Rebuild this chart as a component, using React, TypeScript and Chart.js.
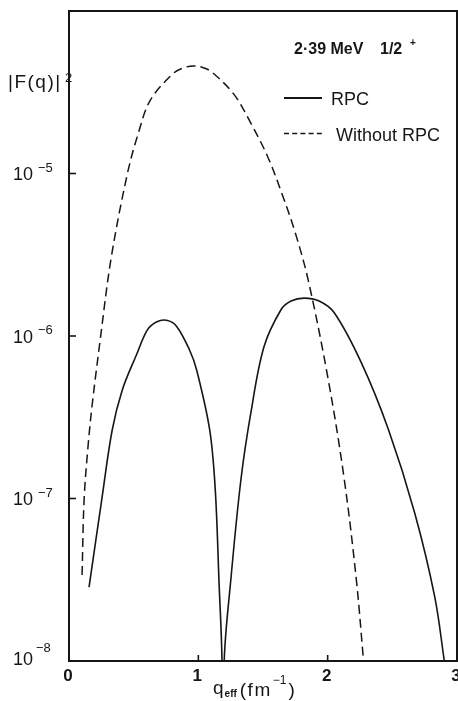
import { useEffect, useRef } from "react";
import { Chart, registerables } from "chart.js";

Chart.register(...registerables);

// ---- data ----
const rpcQ = [0.155, 0.256, 0.334, 0.412, 0.521, 0.606, 0.676, 0.754, 0.831, 0.932, 0.987, 1.088, 1.131, 1.16, 1.183, 1.19, 1.2, 1.251, 1.329, 1.406, 1.507, 1.639, 1.717, 1.818, 1.934, 2.051, 2.261, 2.471, 2.673, 2.828, 2.902];
const rpcF = [2.85e-8, 1.02e-7, 2.64e-7, 4.66e-7, 7.64e-7, 1.09e-6, 1.22e-6, 1.25e-6, 1.15e-6, 8.2e-7, 6.18e-7, 2.64e-7, 1.13e-7, 3.06e-8, 1.0e-8, 1.0e-9, 1.0e-8, 3.15e-8, 1.3e-7, 3.36e-7, 8.55e-7, 1.45e-6, 1.64e-6, 1.71e-6, 1.64e-6, 1.39e-6, 6.83e-7, 2.64e-7, 8.15e-8, 2.48e-8, 1.0e-8];

const noRpcQ = [0.101, 0.117, 0.148, 0.179, 0.241, 0.326, 0.451, 0.536, 0.629, 0.8, 0.878, 0.963, 1.033, 1.103, 1.274, 1.399, 1.538, 1.65, 1.75, 1.85, 2.005, 2.129, 2.222, 2.277];
const noRpcF = [3.38e-8, 9.93e-8, 2.13e-7, 3.76e-7, 9.44e-7, 3.02e-6, 9.93e-6, 1.77e-5, 2.83e-5, 4.09e-5, 4.45e-5, 4.59e-5, 4.49e-5, 4.22e-5, 3.08e-5, 2.09e-5, 1.26e-5, 7.38e-6, 4.3e-6, 2.2e-6, 5.36e-7, 1.3e-7, 3.15e-8, 1.01e-8];

const seriesLabels = ["RPC", "Without RPC"];
const xTicks = [0, 1, 2, 3];
const xTickLabels = ["0", "1", "2", "3"];
const yTicks = [1e-8, 1e-7, 1e-6, 1e-5];
const yTickBase = "10";
const yTickExponents = ["\u22128", "\u22127", "\u22126", "\u22125"];
const titleEnergy = "2\u00b739 MeV";
const titleSpin = "1/2";
const titleParity = "+";
const yTitle = "|F(q)|";
const yTitleSup = "2";
const xTitleMain = "q";
const xTitleSub = "eff";
const xTitleUnit = "(fm";
const xTitleUnitSup = "\u22121";
const xTitleClose = ")";

const INK = "#161616";
const FONT = '"Liberation Sans", Arial, sans-serif';

const paperPlugin = {
  id: "paper",
  beforeDraw(chart: any) {
    const { ctx, width, height } = chart;
    ctx.save();
    ctx.fillStyle = "#ffffff";
    ctx.fillRect(0, 0, width, height);
    ctx.restore();
  },
  afterDraw(chart: any) {
    const { ctx, chartArea, scales } = chart;
    const { left, right, top, bottom } = chartArea;
    const xs = scales.x;
    const ys = scales.y;
    ctx.save();
    ctx.strokeStyle = INK;
    ctx.fillStyle = INK;

    // frame
    ctx.lineWidth = 2;
    ctx.strokeRect(left, top, right - left, bottom - top);

    // inward ticks
    ctx.lineWidth = 1.6;
    xTicks.forEach((v) => {
      const px = xs.getPixelForValue(v);
      ctx.beginPath();
      ctx.moveTo(px, bottom);
      ctx.lineTo(px, bottom - 6);
      ctx.stroke();
    });
    yTicks.forEach((v) => {
      const py = ys.getPixelForValue(v);
      ctx.beginPath();
      ctx.moveTo(left, py);
      ctx.lineTo(left + 7, py);
      ctx.stroke();
    });

    // x tick labels
    ctx.font = `bold 17px ${FONT}`;
    ctx.textAlign = "center";
    ctx.textBaseline = "alphabetic";
    xTicks.forEach((v, i) => {
      ctx.fillText(xTickLabels[i], xs.getPixelForValue(v) - 1, bottom + 20);
    });

    // y tick labels 10^n
    yTicks.forEach((v, i) => {
      const py = ys.getPixelForValue(v);
      const last = i === 0;
      ctx.textAlign = "right";
      ctx.font = `18px ${FONT}`;
      ctx.fillText(yTickBase, 33, py + (last ? 4 : 6.5));
      ctx.textAlign = "left";
      ctx.font = `13px ${FONT}`;
      ctx.fillText(yTickExponents[i], last ? 36 : 38, py - (last ? 9 : 2));
    });

    // y axis title |F(q)|^2
    ctx.textAlign = "left";
    ctx.font = `19px ${FONT}`;
    (ctx as any).letterSpacing = "1.5px";
    ctx.fillText(yTitle, 8, 88);
    (ctx as any).letterSpacing = "0px";
    ctx.font = `13px ${FONT}`;
    ctx.fillText(yTitleSup, 65, 82);

    // x axis title q_eff (fm^-1)
    let cx = 213;
    ctx.font = `19px ${FONT}`;
    ctx.fillText(xTitleMain, cx, 694);
    cx += ctx.measureText(xTitleMain).width + 1;
    ctx.font = `bold 10px ${FONT}`;
    ctx.fillText(xTitleSub, cx, 697);
    cx += ctx.measureText(xTitleSub).width + 3;
    ctx.font = `19px ${FONT}`;
    (ctx as any).letterSpacing = "1.5px";
    ctx.fillText(xTitleUnit, cx, 696);
    cx += ctx.measureText(xTitleUnit).width + 1;
    (ctx as any).letterSpacing = "0px";
    ctx.font = `12px ${FONT}`;
    ctx.fillText(xTitleUnitSup, cx, 684);
    cx += ctx.measureText(xTitleUnitSup).width + 2;
    ctx.font = `19px ${FONT}`;
    ctx.fillText(xTitleClose, cx, 696);

    // title
    ctx.font = `bold 16px ${FONT}`;
    ctx.fillText(titleEnergy, 294, 54);
    ctx.fillText(titleSpin, 380, 54);
    ctx.font = `bold 10px ${FONT}`;
    ctx.fillText(titleParity, 410, 46);

    // legend
    const ds = chart.data.datasets;
    ctx.lineWidth = 2;
    ctx.beginPath();
    ctx.setLineDash([]);
    ctx.moveTo(284, 98);
    ctx.lineTo(322, 98);
    ctx.stroke();
    ctx.lineWidth = 1.6;
    ctx.setLineDash([5, 3.2]);
    ctx.beginPath();
    ctx.moveTo(284, 133.5);
    ctx.lineTo(322, 133.5);
    ctx.stroke();
    ctx.setLineDash([]);
    ctx.font = `18px ${FONT}`;
    ctx.fillText(ds[0].label, 331, 104.5);
    ctx.fillText(ds[1].label, 336, 140.5);

    ctx.restore();
  },
};

export default function App() {
  const canvasRef = useRef<HTMLCanvasElement | null>(null);

  useEffect(() => {
    const canvas = canvasRef.current;
    if (!canvas) return;
    const chart = new Chart(canvas, {
      type: "line",
      data: {
        datasets: [
          {
            label: seriesLabels[0],
            data: rpcQ.map((q, i) => ({ x: q, y: rpcF[i] })),
            borderColor: INK,
            borderWidth: 1.6,
            pointRadius: 0,
            fill: false,
            tension: 0.35,
          },
          {
            label: seriesLabels[1],
            data: noRpcQ.map((q, i) => ({ x: q, y: noRpcF[i] })),
            borderColor: INK,
            borderWidth: 1.5,
            borderDash: [9, 5],
            pointRadius: 0,
            fill: false,
            tension: 0.35,
          },
        ],
      },
      options: {
        animation: false,
        responsive: false,
        devicePixelRatio: 1,
        layout: { padding: { top: 11, right: 1, left: 0, bottom: 0 } },
        plugins: {
          legend: { display: false },
          tooltip: { enabled: false },
          title: { display: false },
        },
        scales: {
          x: {
            type: "linear",
            min: 0,
            max: 3,
            grid: { display: false },
            border: { display: false },
            ticks: { display: false },
            afterFit(scale: any) {
              scale.height = 40;
            },
          },
          y: {
            type: "logarithmic",
            min: 1e-8,
            max: 1e-4,
            grid: { display: false },
            border: { display: false },
            ticks: { display: false },
            afterFit(scale: any) {
              scale.width = 69;
            },
          },
        },
      },
      plugins: [paperPlugin],
    });
    return () => chart.destroy();
  }, []);

  return (
    <div style={{ position: "fixed", left: 0, top: 0, width: 458, height: 701, background: "#fff" }}>
      <canvas ref={canvasRef} width={458} height={701} style={{ display: "block", width: 458, height: 701 }} />
    </div>
  );
}
